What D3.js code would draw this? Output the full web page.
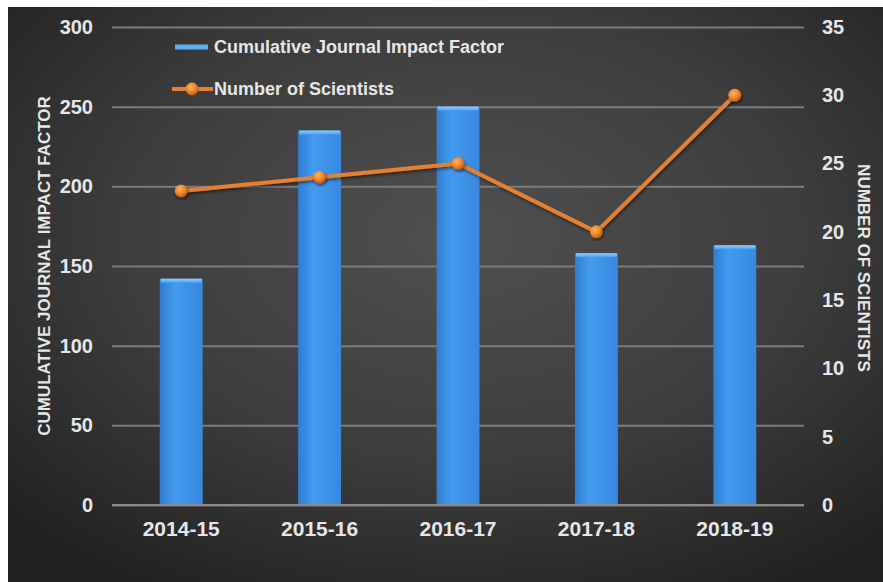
<!DOCTYPE html>
<html>
<head>
<meta charset="utf-8">
<script src="https://cdn.jsdelivr.net/npm/d3@7"></script>
<style>
  html, body { margin: 0; padding: 0; background: #ffffff; }
  svg { display: block; font-family: "Liberation Sans", Arial, sans-serif; }
</style>
</head>
<body>
<svg id="chart" width="883" height="582"></svg>
<script>
// Academic years on the x axis
const years = ["2014-15", "2015-16", "2016-17", "2017-18", "2018-19"];
// Cumulative journal impact factor per year (bars, left axis)
const impactFactor = [142, 235, 250, 158, 163];
// Number of scientists per year (line, right axis)
const scientists = [23, 24, 25, 20, 30];
// Axis ticks
const leftTicks = [0, 50, 100, 150, 200, 250, 300];
const rightTicks = [0, 5, 10, 15, 20, 25, 30, 35];

const svg = d3.select("#chart");
const W = 883, H = 582;
const plot = { left: 112, right: 804, top: 27, bottom: 505 };

const defs = svg.append("defs");

// Dark backdrop with a soft central glow
const bg = defs.append("radialGradient").attr("id", "bgGrad")
  .attr("cx", "52%").attr("cy", "40%").attr("r", "70%");
bg.append("stop").attr("offset", "0%").attr("stop-color", "#505050");
bg.append("stop").attr("offset", "55%").attr("stop-color", "#3d3d3d");
bg.append("stop").attr("offset", "100%").attr("stop-color", "#222222");

const barGrad = defs.append("linearGradient").attr("id", "barGrad")
  .attr("x1", "0").attr("x2", "1").attr("y1", "0").attr("y2", "0");
barGrad.append("stop").attr("offset", "0%").attr("stop-color", "#2f7dd0");
barGrad.append("stop").attr("offset", "35%").attr("stop-color", "#439bf0");
barGrad.append("stop").attr("offset", "100%").attr("stop-color", "#3788de");

const topGrad = defs.append("linearGradient").attr("id", "topGrad")
  .attr("x1", "0").attr("x2", "0").attr("y1", "0").attr("y2", "1");
topGrad.append("stop").attr("offset", "0%").attr("stop-color", "#8fd3ff");
topGrad.append("stop").attr("offset", "100%").attr("stop-color", "#4a9eef");

const dotGrad = defs.append("radialGradient").attr("id", "dotGrad")
  .attr("cx", "40%").attr("cy", "35%").attr("r", "65%");
dotGrad.append("stop").attr("offset", "0%").attr("stop-color", "#ffb060");
dotGrad.append("stop").attr("offset", "60%").attr("stop-color", "#ee8426");
dotGrad.append("stop").attr("offset", "100%").attr("stop-color", "#b85a12");

const shadow = defs.append("filter").attr("id", "shadow")
  .attr("x", "-20%").attr("y", "-20%").attr("width", "140%").attr("height", "140%");
shadow.append("feDropShadow").attr("dx", 1).attr("dy", 2)
  .attr("stdDeviation", 1.5).attr("flood-color", "#000").attr("flood-opacity", 0.5);

svg.append("rect").attr("x", 8).attr("y", 7)
  .attr("width", W - 8).attr("height", H - 7).attr("fill", "url(#bgGrad)");

// Scales
const x = d3.scaleBand().domain(years)
  .range([plot.left, plot.right]).paddingInner(0.69).paddingOuter(0.345);
const yL = d3.scaleLinear().domain([0, 300]).range([plot.bottom, plot.top]);
const yR = d3.scaleLinear().domain([0, 35]).range([plot.bottom, plot.top]);

const labelColor = "#e6e6e6";

// Gridlines (left axis ticks)
const leftAxis = d3.axisLeft(yL).tickValues(leftTicks)
  .tickSize(-(plot.right - plot.left)).tickPadding(19);
const gL = svg.append("g").attr("transform", `translate(${plot.left},0)`).call(leftAxis);
gL.select(".domain").remove();
gL.selectAll(".tick line").attr("stroke", "#7c7c7c").attr("stroke-width", 2);
gL.selectAll(".tick text").attr("fill", labelColor)
  .attr("font-size", 20).attr("font-weight", "bold");

const rightAxis = d3.axisRight(yR).tickValues(rightTicks).tickSize(0).tickPadding(18);
const gR = svg.append("g").attr("transform", `translate(${plot.right},0)`).call(rightAxis);
gR.select(".domain").remove();
gR.selectAll(".tick text").attr("fill", labelColor)
  .attr("font-size", 20).attr("font-weight", "bold");

// Bars
const bars = svg.append("g");
bars.selectAll("rect.bar").data(years).join("rect").attr("class", "bar")
  .attr("x", d => x(d)).attr("width", x.bandwidth())
  .attr("y", (d, i) => yL(impactFactor[i]))
  .attr("height", (d, i) => plot.bottom - yL(impactFactor[i]))
  .attr("fill", "url(#barGrad)");
bars.selectAll("rect.cap").data(years).join("rect").attr("class", "cap")
  .attr("x", d => x(d) + 1).attr("width", x.bandwidth() - 2)
  .attr("y", (d, i) => yL(impactFactor[i]))
  .attr("height", 4).attr("fill", "url(#topGrad)");

// Baseline
svg.append("line").attr("x1", plot.left).attr("x2", plot.right)
  .attr("y1", yL(0)).attr("y2", yL(0))
  .attr("stroke", "#8a8a8a").attr("stroke-width", 2);

// X axis labels
const xAxis = d3.axisBottom(x).tickSize(0).tickPadding(16);
const gX = svg.append("g").attr("transform", `translate(0,${plot.bottom})`).call(xAxis);
gX.select(".domain").remove();
gX.selectAll(".tick text").attr("fill", labelColor)
  .attr("font-size", 21).attr("font-weight", "bold");

// Scientists line
const cx = d => x(d) + x.bandwidth() / 2;
const line = d3.line().x(d => cx(d)).y((d, i) => yR(scientists[i]));
svg.append("path").datum(years).attr("d", line)
  .attr("fill", "none").attr("stroke", "#e58030").attr("stroke-width", 4)
  .attr("stroke-linejoin", "round").attr("filter", "url(#shadow)");
svg.append("g").selectAll("circle").data(years).join("circle")
  .attr("cx", d => cx(d)).attr("cy", (d, i) => yR(scientists[i]))
  .attr("r", 6.5).attr("fill", "url(#dotGrad)").attr("filter", "url(#shadow)");

// Axis titles
svg.append("text")
  .attr("transform", `translate(50,${(plot.top + plot.bottom) / 2}) rotate(-90)`)
  .attr("text-anchor", "middle").attr("fill", labelColor)
  .attr("font-size", 17).attr("font-weight", "bold")
  .text("CUMULATIVE JOURNAL IMPACT FACTOR");
svg.append("text")
  .attr("transform", `translate(858,${(plot.top + plot.bottom) / 2 + 2}) rotate(90)`)
  .attr("text-anchor", "middle").attr("fill", labelColor)
  .attr("font-size", 17).attr("font-weight", "bold")
  .text("NUMBER OF SCIENTISTS");

// Legend
const legend = svg.append("g");
legend.append("line").attr("x1", 175).attr("x2", 208).attr("y1", 47).attr("y2", 47)
  .attr("stroke", "#5ab0f2").attr("stroke-width", 5);
legend.append("text").attr("x", 214).attr("y", 53)
  .attr("fill", labelColor).attr("font-size", 18).attr("font-weight", "bold")
  .text("Cumulative Journal Impact Factor");
legend.append("line").attr("x1", 172).attr("x2", 213).attr("y1", 89).attr("y2", 89)
  .attr("stroke", "#e58030").attr("stroke-width", 4);
legend.append("circle").attr("cx", 192).attr("cy", 89).attr("r", 6.5)
  .attr("fill", "url(#dotGrad)");
legend.append("text").attr("x", 214).attr("y", 95)
  .attr("fill", labelColor).attr("font-size", 18).attr("font-weight", "bold")
  .text("Number of Scientists");
</script>
</body>
</html>
